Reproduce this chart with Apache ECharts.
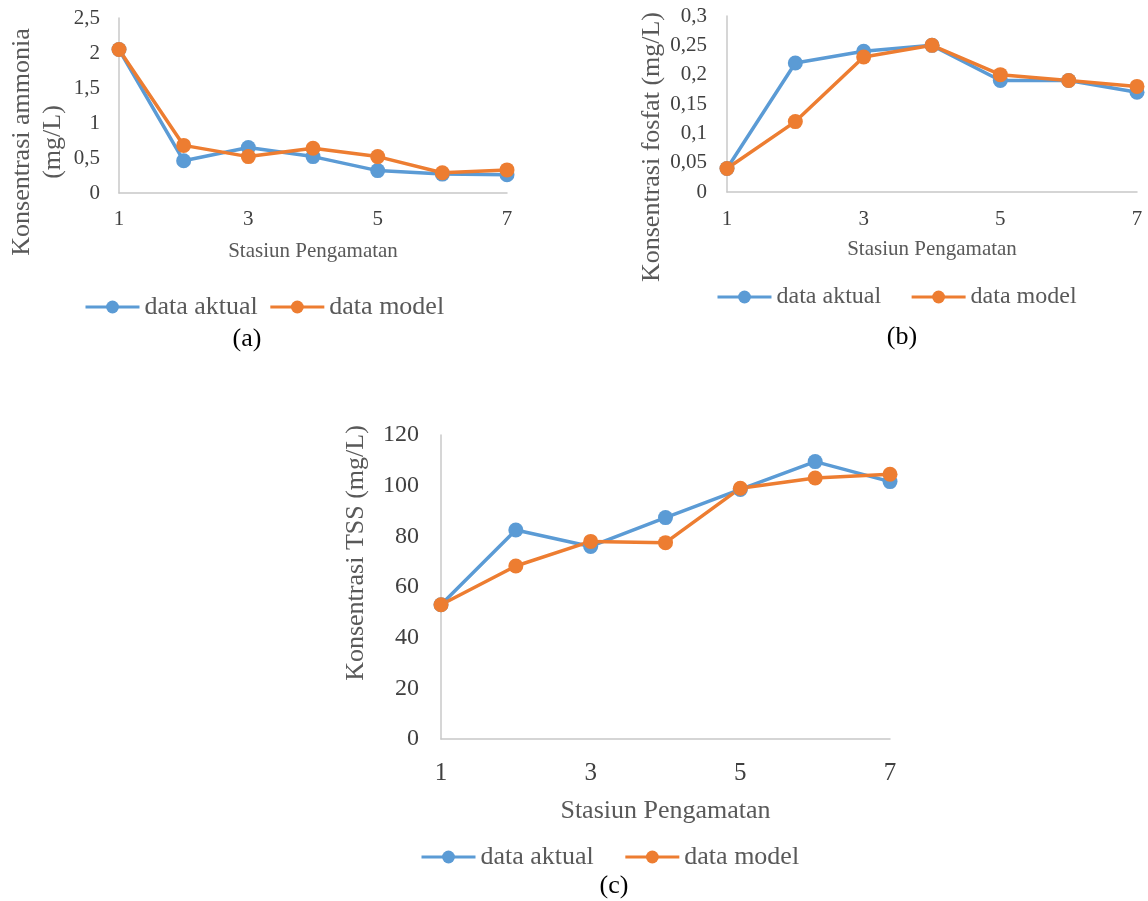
<!DOCTYPE html>
<html>
<head>
<meta charset="utf-8">
<script src="https://cdn.jsdelivr.net/npm/echarts@6/dist/echarts.min.js"></script>
<style>
html,body{margin:0;padding:0;background:#fff;}
#c{width:1148px;height:901px;}
</style>
</head>
<body>
<div id="c"></div>
<script>
const stations = ['1','2','3','4','5','6','7'];
const ammoniaAktual = [2.05, 0.46, 0.65, 0.52, 0.32, 0.27, 0.26];
const ammoniaModel  = [2.05, 0.68, 0.52, 0.64, 0.52, 0.29, 0.33];
const fosfatAktual  = [0.04, 0.22, 0.24, 0.25, 0.19, 0.19, 0.17];
const fosfatModel   = [0.04, 0.12, 0.23, 0.25, 0.20, 0.19, 0.18];
const tssAktual     = [53, 82.5, 76, 87.4, 98.5, 109.5, 101.6];
const tssModel      = [53, 68.3, 78, 77.5, 99, 103, 104.5];
const seriesNames   = ['data aktual', 'data model'];
const xName = 'Stasiun Pengamatan';
const yNames = ['Konsentrasi ammonia\n(mg/L)', 'Konsentrasi fosfat (mg/L)', 'Konsentrasi TSS (mg/L)'];
const panelLabels = ['(a)', '(b)', '(c)'];

const FONT = '"Liberation Serif", "Times New Roman", serif';
const GREY = '#595959';
const TICK = '#404040';
const AXIS = '#c8c8c8';
const BLUE = '#5B9BD5';
const ORANGE = '#ED7D31';

const fmt = v => String(parseFloat(v.toFixed(2))).replace('.', ',');

function xAxis(grid, fs, gap, nfs, margin) {
  return {
    type: 'category', gridIndex: grid, data: stations, boundaryGap: false,
    axisLine: {show: true, lineStyle: {color: AXIS, width: 1.5}},
    axisTick: {show: false},
    axisLabel: {interval: 1, color: TICK, fontFamily: FONT, fontSize: fs, margin: margin},
    splitLine: {show: false},
    name: xName, nameLocation: 'middle', nameGap: gap,
    nameTextStyle: {color: GREY, fontFamily: FONT, fontSize: nfs}
  };
}
function yAxis(grid, max, interval, fs, margin) {
  return {
    type: 'value', gridIndex: grid, min: 0, max: max, interval: interval,
    axisLine: {show: true, lineStyle: {color: AXIS, width: 1.5}},
    axisTick: {show: false},
    axisLabel: {color: TICK, fontFamily: FONT, fontSize: fs, margin: margin, formatter: fmt},
    splitLine: {show: false}
  };
}
function line(name, data, idx, color, lw, sym) {
  return {
    type: 'line', name: name, data: data, xAxisIndex: idx, yAxisIndex: idx,
    symbol: 'circle', symbolSize: sym, showSymbol: true,
    lineStyle: {color: color, width: lw}, itemStyle: {color: color},
    emphasis: {disabled: true}, animation: false
  };
}
function legend(left, top, gap, fs, ih) {
  return {
    data: seriesNames, left: left, top: top, padding: 0, itemGap: gap,
    itemWidth: 54, itemHeight: ih, selectedMode: false,
    lineStyle: {width: 3},
    textStyle: {color: GREY, fontFamily: FONT, fontSize: fs}
  };
}
function txt(x, y, text, fs, color, rot, lh) {
  return {
    type: 'text', x: x, y: y, rotation: rot || 0, silent: true,
    style: {text: text, fill: color, font: fs + 'px ' + FONT, align: 'center', verticalAlign: 'middle', lineHeight: lh || fs}
  };
}

const chart = echarts.init(document.getElementById('c'), null, {renderer: 'canvas'});
chart.setOption({
  backgroundColor: '#ffffff',
  animation: false,
  textStyle: {fontFamily: FONT},
  grid: [
    {left: 119, top: 18, width: 388, height: 175},
    {left: 727, top: 16, width: 410, height: 176},
    {left: 441, top: 435, width: 449, height: 304}
  ],
  xAxis: [
    xAxis(0, 21, 48, 21, 16),
    xAxis(1, 21, 47, 21, 17),
    xAxis(2, 25, 59, 26, 22)
  ],
  yAxis: [
    yAxis(0, 2.5, 0.5, 21, 19),
    yAxis(1, 0.3, 0.05, 21, 20),
    yAxis(2, 120, 20, 24, 22)
  ],
  legend: [
    legend(84, 294, 11, 26, 16),
    legend(716, 285, 29, 24, 16),
    legend(420, 844, 30, 26, 16)
  ],
  series: [
    line(seriesNames[0], ammoniaAktual, 0, BLUE, 3.5, 15),
    line(seriesNames[1], ammoniaModel, 0, ORANGE, 3.5, 15),
    line(seriesNames[0], fosfatAktual, 1, BLUE, 3.5, 15),
    line(seriesNames[1], fosfatModel, 1, ORANGE, 3.5, 15),
    line(seriesNames[0], tssAktual, 2, BLUE, 3.5, 15),
    line(seriesNames[1], tssModel, 2, ORANGE, 3.5, 15)
  ],
  graphic: [
    txt(37.5, 142, yNames[0], 26, GREY, Math.PI / 2, 31),
    txt(652, 147, yNames[1], 26, GREY, Math.PI / 2),
    txt(356, 553, yNames[2], 26, GREY, Math.PI / 2),
    txt(247, 339, panelLabels[0], 26, '#000'),
    txt(902, 337, panelLabels[1], 26, '#000'),
    txt(614, 886, panelLabels[2], 26, '#000')
  ]
});
</script>
</body>
</html>
